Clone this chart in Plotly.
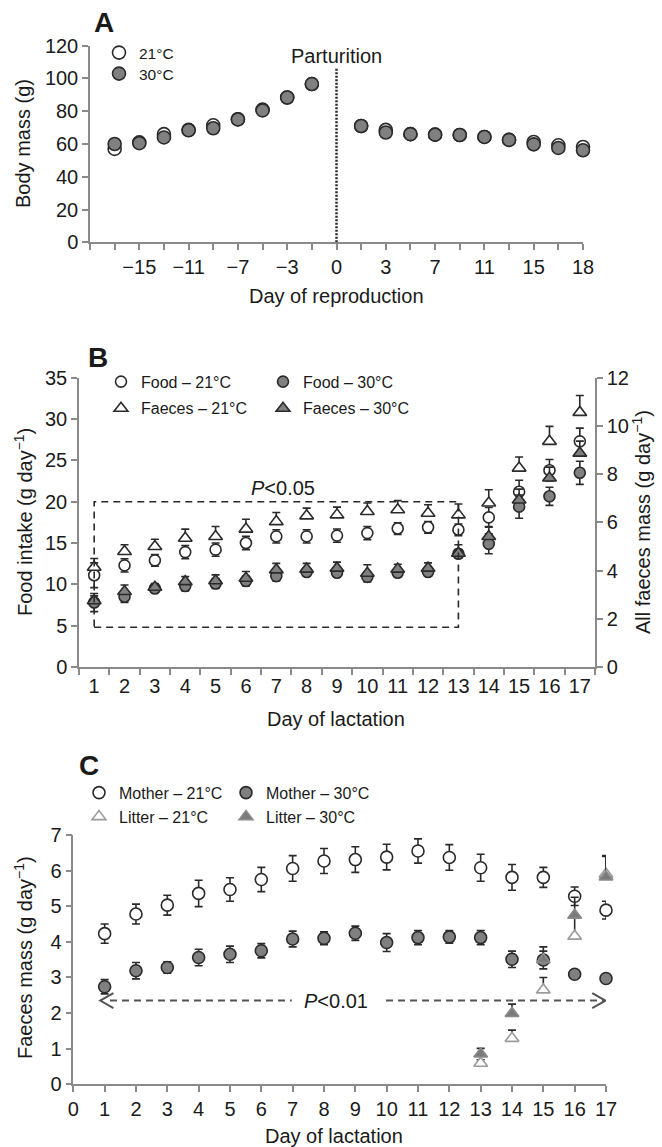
import plotly.graph_objects as go

FONT = "Liberation Sans, Arial, Helvetica, sans-serif"
W, H = 662, 1147

# ---------------- Data ----------------
# Panel A: body mass (g)
A_categories = ["−19", "−17", "−15", "−13", "−11", "−9", "−7", "−5", "−3", "−1", "0",
                "1", "3", "5", "7", "9", "11", "13", "15", "17", "18"]
A_tick_shown = ["−15", "−11", "−7", "−3", "0", "3", "7", "11", "15", "18"]
A_days = ["−17", "−15", "−13", "−11", "−9", "−7", "−5", "−3", "−1",
          "1", "3", "5", "7", "9", "11", "13", "15", "17", "18"]
A_mass_21 = [57.0, 61.0, 66.0, 68.6, 71.4, 75.1, 81.0, 88.4, 96.6,
             71.0, 68.6, 66.0, 65.7, 65.5, 64.3, 62.5, 61.2, 59.2, 58.2]
A_mass_30 = [60.0, 60.5, 64.0, 68.4, 69.6, 75.0, 80.5, 88.4, 96.6,
             71.0, 67.0, 66.0, 65.7, 65.5, 64.3, 62.5, 59.8, 57.6, 56.2]

# Panel B: food intake (left axis) and all faeces mass (right axis)
B_days = list(range(1, 18))
B_food_21 = [11.1, 12.3, 12.9, 13.9, 14.2, 15.0, 15.8, 15.8, 15.9, 16.2, 16.75, 16.9, 16.6, 18.1, 21.2, 23.8, 27.3]
B_food_21_se = [1.5, 0.8, 0.7, 0.8, 0.8, 0.8, 0.8, 0.8, 0.8, 0.8, 0.7, 0.7, 0.7, 1.2, 1.4, 1.3, 1.6]
B_food_30 = [7.8, 8.5, 9.5, 9.8, 10.1, 10.4, 11.0, 11.5, 11.4, 10.9, 11.4, 11.5, 13.7, 14.9, 19.4, 20.65, 23.5]
B_food_30_se = [1.1, 0.7, 0.5, 0.6, 0.6, 0.6, 0.6, 0.5, 0.5, 0.6, 0.5, 0.5, 0.5, 1.2, 1.4, 1.1, 1.4]
B_faeces_21 = [4.14, 4.79, 5.0, 5.34, 5.41, 5.72, 6.03, 6.27, 6.31, 6.45, 6.52, 6.38, 6.31, 6.8, 8.25, 9.36, 10.56]
B_faeces_21_se = [0.36, 0.28, 0.3, 0.38, 0.42, 0.41, 0.38, 0.32, 0.32, 0.35, 0.38, 0.35, 0.45, 0.55, 0.46, 0.62, 0.7]
B_faeces_30 = [2.75, 3.13, 3.31, 3.54, 3.58, 3.68, 4.03, 4.06, 4.1, 3.89, 4.06, 4.1, 4.72, 5.41, 6.93, 7.84, 8.87]
B_faeces_30_se = [0.2, 0.27, 0.15, 0.21, 0.24, 0.28, 0.27, 0.24, 0.25, 0.35, 0.2, 0.22, 0.35, 0.42, 0.45, 0.45, 0.5]

# Panel C: faeces mass of mother and litter
C_days = list(range(1, 18))
C_mother_21 = [4.23, 4.78, 5.03, 5.36, 5.47, 5.75, 6.06, 6.27, 6.31, 6.38, 6.55, 6.37, 6.08, 5.81, 5.81, 5.28, 4.89]
C_mother_21_se = [0.27, 0.28, 0.28, 0.37, 0.33, 0.34, 0.36, 0.35, 0.36, 0.36, 0.34, 0.36, 0.38, 0.36, 0.28, 0.26, 0.25]
C_mother_30 = [2.74, 3.19, 3.28, 3.56, 3.65, 3.75, 4.08, 4.10, 4.24, 3.98, 4.12, 4.14, 4.12, 3.51, 3.49, 3.09, 2.97]
C_mother_30_se = [0.2, 0.23, 0.16, 0.23, 0.23, 0.2, 0.22, 0.18, 0.2, 0.25, 0.2, 0.18, 0.2, 0.23, 0.25, 0.08, 0.1]
C_litter_days = [13, 14, 15, 16, 17]
C_litter_21 = [0.59, 1.29, 2.65, 4.16, 5.9]
C_litter_21_se = [0.1, 0.23, 0.35, 0.6, 0.5]
C_litter_30 = [0.85, 1.99, 3.5, 4.75, 5.82]
C_litter_30_se = [0.16, 0.26, 0.36, 0.5, 0.6]

# ---------------- Styles ----------------
DARK = "#2a2a2a"
GREY = "#808080"
AXIS = "#8a8a8a"
LIGHT = "#9c9c9c"


def px_x(p):
    return p / W


def px_y(p):
    return 1 - p / H


def open_marker(symbol, size, color=DARK):
    return dict(symbol=symbol, size=size, color="white", line=dict(color=color, width=1.6))


def filled_marker(symbol, size, fill=GREY, color=DARK):
    return dict(symbol=symbol, size=size, color=fill, line=dict(color=color, width=1.6))


def err(se, up_only=False):
    if up_only:
        return dict(type="data", symmetric=False, array=se, arrayminus=[0] * len(se),
                    color=DARK, thickness=1.6, width=4)
    return dict(type="data", array=se, color=DARK, thickness=1.6, width=4)


fig = go.Figure()

# Panel A
fig.add_trace(go.Scatter(x=A_days, y=A_mass_21, mode="markers", name="21°C",
                         marker=open_marker("circle", 13), xaxis="x", yaxis="y",
                         legend="legend", cliponaxis=False))
fig.add_trace(go.Scatter(x=A_days, y=A_mass_30, mode="markers", name="30°C",
                         marker=filled_marker("circle", 13), xaxis="x", yaxis="y",
                         legend="legend2", cliponaxis=False))

# Panel B
fig.add_trace(go.Scatter(x=B_days, y=B_food_21, mode="markers", name="Food – 21°C",
                         marker=open_marker("circle", 11), error_y=err(B_food_21_se),
                         xaxis="x2", yaxis="y2", legend="legend3", cliponaxis=False))
fig.add_trace(go.Scatter(x=B_days, y=B_food_30, mode="markers", name="Food – 30°C",
                         marker=filled_marker("circle", 11), error_y=err(B_food_30_se),
                         xaxis="x2", yaxis="y2", legend="legend3", cliponaxis=False))
fig.add_trace(go.Scatter(x=B_days, y=B_faeces_21, mode="markers", name="Faeces – 21°C",
                         marker=open_marker("triangle-up", 12), error_y=err(B_faeces_21_se, True),
                         xaxis="x2", yaxis="y3", legend="legend4", cliponaxis=False))
fig.add_trace(go.Scatter(x=B_days, y=B_faeces_30, mode="markers", name="Faeces – 30°C",
                         marker=filled_marker("triangle-up", 12), error_y=err(B_faeces_30_se, True),
                         xaxis="x2", yaxis="y3", legend="legend4", cliponaxis=False))

# Panel C
fig.add_trace(go.Scatter(x=C_days, y=C_mother_21, mode="markers", name="Mother – 21°C",
                         marker=open_marker("circle", 12), error_y=err(C_mother_21_se),
                         xaxis="x3", yaxis="y4", legend="legend5", cliponaxis=False))
fig.add_trace(go.Scatter(x=C_days, y=C_mother_30, mode="markers", name="Mother – 30°C",
                         marker=filled_marker("circle", 12), error_y=err(C_mother_30_se),
                         xaxis="x3", yaxis="y4", legend="legend5", cliponaxis=False))
fig.add_trace(go.Scatter(x=C_litter_days, y=C_litter_21, mode="markers", name="Litter – 21°C",
                         marker=open_marker("triangle-up", 12, LIGHT), error_y=err(C_litter_21_se, True),
                         xaxis="x3", yaxis="y4", legend="legend6", cliponaxis=False))
fig.add_trace(go.Scatter(x=C_litter_days, y=C_litter_30, mode="markers", name="Litter – 30°C",
                         marker=filled_marker("triangle-up", 12, "#7a7a7a", "#8a8a8a"),
                         error_y=err(C_litter_30_se, True),
                         xaxis="x3", yaxis="y4", legend="legend6", cliponaxis=False))

axis_common = dict(showline=True, linecolor=AXIS, linewidth=1.5, ticks="outside", ticklen=6,
                   tickcolor=AXIS, tickwidth=1.5, showgrid=False, zeroline=False,
                   automargin=False,
                   tickfont=dict(size=20, color="#1a1a1a", family=FONT))

A_ticktext = [c if c in A_tick_shown else "" for c in A_categories]

fig.update_layout(
    width=W, height=H, margin=dict(l=0, r=0, t=0, b=0, autoexpand=False),
    plot_bgcolor="white", paper_bgcolor="white", showlegend=True,
    font=dict(family=FONT, size=20, color="#1a1a1a"),
    xaxis=dict(axis_common, type="category", categoryorder="array", categoryarray=A_categories,
               range=[0, len(A_categories) - 1], tickmode="array", tickvals=A_categories,
               ticktext=A_ticktext, domain=[px_x(90), px_x(583)], anchor="y"),
    yaxis=dict(axis_common, range=[0, 120], dtick=20, domain=[px_y(242.3), px_y(45.7)], anchor="x"),
    xaxis2=dict(axis_common, range=[0.5, 17.5], tickmode="array", tickvals=B_days, ticks="",
                minor=dict(ticks="outside", tick0=0.5, dtick=1, ticklen=6, tickcolor=AXIS, tickwidth=1.5),
                domain=[px_x(79), px_x(595)], anchor="y2"),
    yaxis2=dict(axis_common, range=[0, 35], dtick=5, domain=[px_y(667), px_y(377.7)], anchor="x2"),
    yaxis3=dict(axis_common, range=[0, 12], dtick=2, overlaying="y2", side="right", anchor="x2",
                domain=[px_y(667), px_y(377.7)]),
    xaxis3=dict(axis_common, range=[0, 17], dtick=1, domain=[px_x(73.3), px_x(606)], anchor="y4"),
    yaxis4=dict(axis_common, range=[0, 7], dtick=1, domain=[px_y(1084.3), px_y(835)], anchor="x3"),
)


def leg(xpx, ypx, size=16, horizontal=True, entry=0):
    d = dict(x=px_x(xpx), y=px_y(ypx), xanchor="left", yanchor="middle",
             bgcolor="rgba(0,0,0,0)", borderwidth=0, itemwidth=30, tracegroupgap=0,
             font=dict(size=size, family=FONT, color="#1a1a1a"), traceorder="normal",
             itemclick=False, itemdoubleclick=False)
    if horizontal:
        d.update(orientation="h", entrywidth=entry, entrywidthmode="pixels")
    return d


fig.update_layout(
    legend=leg(99, 53, 15.5, False),
    legend2=leg(99, 74, 15.5, False),
    legend3=leg(101, 381.7, 16, True, 117),
    legend4=leg(101, 408.3, 16, True, 117),
    legend5=leg(79, 792.7, 16, True, 102),
    legend6=leg(79, 816.7, 16, True, 102),
)

# Shapes: parturition line, P<0.05 box, P<0.01 arrow
part_idx = A_categories.index("0")
shapes = [
    dict(type="line", xref="x", yref="y", x0=part_idx, x1=part_idx, y0=0, y1=106,
         line=dict(color=DARK, width=2.5, dash="2px,1.5px")),
    dict(type="rect", xref="x2", yref="y2", x0=1, x1=13, y0=4.8, y1=20,
         line=dict(color=DARK, width=1.6, dash="7px,5px")),
    dict(type="line", xref="x3", yref="y4", x0=1.17, x1=6.97, y0=2.35, y1=2.35,
         line=dict(color="#555555", width=2, dash="7px,5px")),
    dict(type="line", xref="x3", yref="y4", x0=9.98, x1=16.95, y0=2.35, y1=2.35,
         line=dict(color="#555555", width=2, dash="7px,5px")),
    dict(type="path", xref="x3", yref="y4", path="M 1.28,2.56 L 0.86,2.35 L 1.28,2.14",
         line=dict(color="#555555", width=2)),
    dict(type="path", xref="x3", yref="y4", path="M 16.56,2.56 L 16.98,2.35 L 16.56,2.14",
         line=dict(color="#555555", width=2)),
]
fig.update_layout(shapes=shapes)

ann = []


def text(xpx, ypx, s, size=20, angle=0, xanchor="center"):
    ann.append(dict(xref="paper", yref="paper", x=px_x(xpx), y=px_y(ypx), text=s,
                    showarrow=False, xanchor=xanchor, yanchor="middle", textangle=angle,
                    font=dict(size=size, family=FONT, color="#1a1a1a")))


# Panel letters
text(92, 23, "<b>A</b>", 28, xanchor="left")
text(86, 357, "<b>B</b>", 28, xanchor="left")
text(77, 765, "<b>C</b>", 28, xanchor="left")
# Axis titles
text(23, 144, "Body mass (g)", 20, -90)
text(336, 296, "Day of reproduction", 20)
text(23, 522, "Food intake (g day<sup>−1</sup>)", 20, -90)
text(641, 522, "All faeces mass (g day<sup>−1</sup>)", 20, -90)
text(336, 719, "Day of lactation", 20)
text(23, 958, "Faeces mass (g day<sup>−1</sup>)", 20, -90)
text(334, 1136, "Day of lactation", 20)
fig.update_layout(annotations=ann)

# Data-space annotations
fig.add_annotation(xref="x", yref="y", x=part_idx, y=113.5, text="Parturition", showarrow=False,
                   font=dict(size=20, family=FONT, color="#1a1a1a"))
fig.add_annotation(xref="x2", yref="y2", x=7.23, y=21.7, text="<i>P</i>&lt;0.05", showarrow=False,
                   font=dict(size=20, family=FONT, color="#1a1a1a"))
fig.add_annotation(xref="x3", yref="y4", x=8.37, y=2.35, text="<i>P</i>&lt;0.01", showarrow=False,
                   font=dict(size=20, family=FONT, color="#1a1a1a"))

fig.write_html("out.html", config={"displayModeBar": False},
               post_script="document.body.style.margin='0px';")
